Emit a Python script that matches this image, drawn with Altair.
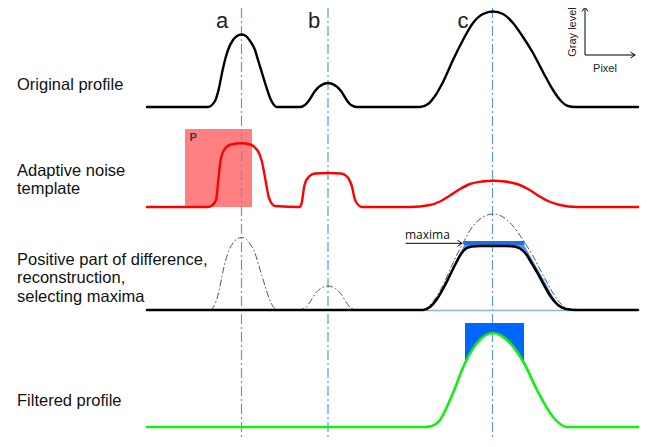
import altair as alt
import pandas as pd

# ---------------- data (image-pixel coordinates) ----------------
orig_x = [147, 208, 215, 219, 222, 225, 228, 233, 237, 241.5, 246, 250, 255, 258, 262, 266, 271, 277,
          300, 305, 310, 315, 320, 328, 336, 341, 346, 351, 357,
          420, 428, 435, 443, 453, 463, 473, 483, 493, 503, 513, 523, 533, 543, 553, 561, 568, 575, 638]
orig_y = [107, 107, 101, 88, 73, 60, 50, 40, 36, 34.5, 36, 41, 50, 60, 73, 86, 100, 107,
          107, 105, 99, 91, 86, 83, 86, 91, 99, 105, 107,
          107, 104, 96, 82, 60, 40, 23, 14, 11.5, 14, 23, 37, 53, 72, 90, 101, 106, 107, 107]

templ_x = [147, 208, 212, 216, 218.5, 221, 225, 231, 241.7, 250, 255, 259, 262, 265.5, 269, 275,
           300, 301.7, 304.5, 309, 315, 328.3, 341, 347, 351.5, 355.5, 362,
           410, 430, 440, 450, 460, 470, 482, 493, 505, 517, 528, 538, 548, 560, 577, 638]
templ_y = [207, 207, 205.5, 200, 178, 158, 148.5, 144.5, 143.3, 144.5, 147.5, 153, 162, 180, 198, 206,
           207, 203, 185, 176.5, 173.5, 173, 173.5, 176.5, 185, 201, 207,
           207, 205, 201.5, 195.5, 189, 184, 181.5, 180.7, 181.5, 184, 189, 195.5, 201, 205, 207, 207]

diff_a_x = [211, 215, 219, 222, 225, 228, 233, 237, 241.5, 246, 250, 255, 258, 262, 266, 271, 276]
diff_a_y = [310, 304, 291, 276, 263, 253, 243, 239, 237.5, 239, 244, 253, 263, 276, 289, 303, 310]
diff_b_x = [298, 305, 310, 315, 320, 328, 336, 341, 346, 351, 358]
diff_b_y = [310, 308, 302, 294, 289, 286, 289, 294, 302, 308, 310]
diff_c_x = [423, 428, 435, 443, 453, 463, 473, 483, 493, 503, 513, 523, 533, 543, 553, 561, 568, 577]
diff_c_y = [310, 307, 299, 285, 263, 243, 226, 217, 214, 217, 226, 240, 256, 275, 293, 304, 309, 310]

recon_x = [147, 423, 430, 437, 444, 450, 456, 461, 466, 472, 480, 493, 506, 514, 520, 526, 531, 537,
           544, 551, 558, 566, 577, 638]
recon_y = [310, 310, 307, 299, 287, 275, 263, 254, 248.5, 246.5, 246, 246, 246, 246.5, 248.5, 254, 262, 272,
           285, 297, 305, 309, 310, 310]

maxfill_x = [445, 450, 455, 460, 465, 472, 493, 514, 520, 523, 530, 537, 544, 551, 558]
maxfill_top = [285, 274.5, 264, 253.5, 243, 243, 243, 243, 243, 243, 255.5, 268, 280, 293, 305]
maxfill_bot = [285, 275, 265, 256, 249.5, 246.5, 246, 246.5, 248.5, 250.5, 260, 272, 285, 297, 305]

filt_x = [147, 425, 430, 440, 453, 465, 477, 485, 493, 501, 510, 524, 537, 553, 567, 638]
filt_y = [427, 427, 426.5, 420, 393, 363, 343, 335.5, 333, 335.5, 343, 363, 390, 417, 427, 427]

cap_x = [465, 470, 477, 485, 493, 501, 510, 517, 524]
cap_bot = [363, 352, 343, 335.5, 333, 335.5, 343, 352, 363]
cap_top = 323

peak_x = [241.5, 328, 492.5]
peak_labels = ["a", "b", "c"]
peak_label_x = [222, 314, 463]

row_labels = [["Original profile"], ["Adaptive noise", "template"],
              ["Positive part of difference,", "reconstruction,", "selecting maxima"],
              ["Filtered profile"]]
row_label_y = [89.5, 175.5, 264.5, 406]
row_line_h = [18.6, 18.6, 18.6, 18.6]

# ---------------- scales ----------------
XS = alt.Scale(domain=[8, 648], nice=False, zero=False)
YS = alt.Scale(domain=[8, 439], nice=False, zero=False, reverse=True)


def X(f="x"):
    return alt.X(f"{f}:Q", scale=XS, axis=None)


def Y(f="y"):
    return alt.Y(f"{f}:Q", scale=YS, axis=None)


def line(xs, ys, color, width, dash=None, interp="monotone"):
    df = pd.DataFrame({"x": xs, "y": ys})
    kw = dict(color=color, strokeWidth=width, interpolate=interp, strokeCap="round", strokeJoin="round")
    if dash:
        kw["strokeDash"] = dash
    return alt.Chart(df).mark_line(**kw).encode(x=X(), y=Y())


layers = []

# pink box P
pbox = pd.DataFrame({"x": [185], "x2": [252], "y": [129], "y2": [207]})
layers.append(alt.Chart(pbox).mark_rect(color="#FF8080").encode(x=X(), x2="x2", y=Y(), y2="y2"))
layers.append(alt.Chart(pd.DataFrame({"x": [189.5], "y": [140.5], "t": ["P"]})).mark_text(
    align="left", baseline="alphabetic", fontSize=11, fontWeight="bold", font="Liberation Sans", color="#3a3a3a"
).encode(x=X(), y=Y(), text="t:N"))

# vertical dash-dot guides
vl = pd.DataFrame({"x": peak_x, "y": [8] * 3, "y2": [439] * 3})
layers.append(alt.Chart(vl).mark_rule(color="#5B9BD5", strokeWidth=1.2, strokeDash=[10, 3, 2, 3]).encode(
    x=X(), y=Y(), y2="y2"))

# dashed difference curves
for xs, ys in [(diff_a_x, diff_a_y), (diff_b_x, diff_b_y), (diff_c_x, diff_c_y)]:
    layers.append(line(xs, ys, "#555555", 1, dash=[6, 3, 1, 3]))

# light-blue baseline under reconstruction bump
layers.append(line([423, 577], [310.5, 310.5], "#8DB4E2", 1.5))

# blue selected-maxima fill
mf = pd.DataFrame({"x": maxfill_x, "y": maxfill_top, "y2": maxfill_bot})
layers.append(alt.Chart(mf).mark_area(color="#4F94EF", interpolate="linear").encode(x=X(), y=Y(), y2="y2"))
layers.append(line([465, 523], [243, 243], "#1E6FE6", 4, interp="linear"))

# main curves
layers.append(line(orig_x, orig_y, "#000000", 2.4))
layers.append(line(templ_x, templ_y, "#FF0000", 2.4))
layers.append(line(recon_x, recon_y, "#000000", 2.6))

# filtered cap fill + green curve
cp = pd.DataFrame({"x": cap_x, "y": [cap_top] * len(cap_x), "y2": cap_bot})
layers.append(alt.Chart(cp).mark_area(color="#0066FF", interpolate="monotone").encode(x=X(), y=Y(), y2="y2"))
layers.append(line(filt_x, filt_y, "#11EE11", 2.6))

# maxima arrow
layers.append(line([406, 461], [243.3, 243.3], "#000000", 1, interp="linear"))
arrow_shape = "M-1.5,-1L0,0L-1.5,1"
heads = pd.DataFrame({"x": [462, 585, 635], "y": [243.3, 7, 55], "a": [0, 270, 0]})
layers.append(alt.Chart(heads).mark_point(shape=arrow_shape, filled=False, color="#000000",
                                          strokeWidth=1, size=36, opacity=1).encode(
    x=X(), y=Y(), angle=alt.Angle("a:Q", scale=None)))

# Gray level / Pixel inset axes
layers.append(line([585, 585, 635], [7, 55, 55], "#000000", 1, interp="linear"))
layers.append(alt.Chart(pd.DataFrame({"x": [573], "y": [32], "t": ["Gray level"]})).mark_text(
    angle=270, align="center", baseline="middle", fontSize=11, font="Liberation Sans", color="#222222"
).encode(x=X(), y=Y(), text="t:N"))
layers.append(alt.Chart(pd.DataFrame({"x": [605], "y": [72], "t": ["Pixel"]})).mark_text(
    align="center", baseline="alphabetic", fontSize=11, font="Liberation Sans", color="#222222"
).encode(x=X(), y=Y(), text="t:N"))

# maxima label
layers.append(alt.Chart(pd.DataFrame({"x": [405], "y": [239], "t": ["maxima"]})).mark_text(
    align="left", baseline="alphabetic", fontSize=12, font="Open Sans", color="#111111"
).encode(x=X(), y=Y(), text="t:N"))

# peak letters
layers.append(alt.Chart(pd.DataFrame({"x": peak_label_x, "y": [28] * 3, "t": peak_labels})).mark_text(
    align="center", baseline="alphabetic", fontSize=22, font="Liberation Sans", color="#222222"
).encode(x=X(), y=Y(), text="t:N"))

# row labels (multi-line texts)
for lines_, yy, lh in zip(row_labels, row_label_y, row_line_h):
    layers.append(alt.Chart(pd.DataFrame({"x": [17], "y": [yy]})).mark_text(
        text=lines_, lineHeight=lh, align="left", baseline="alphabetic", fontSize=16.5,
        font="Liberation Sans", color="#111111"
    ).encode(x=X(), y=Y()))

chart = alt.layer(*layers).properties(width=640, height=431, padding=0, autosize="none").configure_view(
    stroke=None)

chart.save("out.html", embed_options={"renderer": "svg", "actions": False})
